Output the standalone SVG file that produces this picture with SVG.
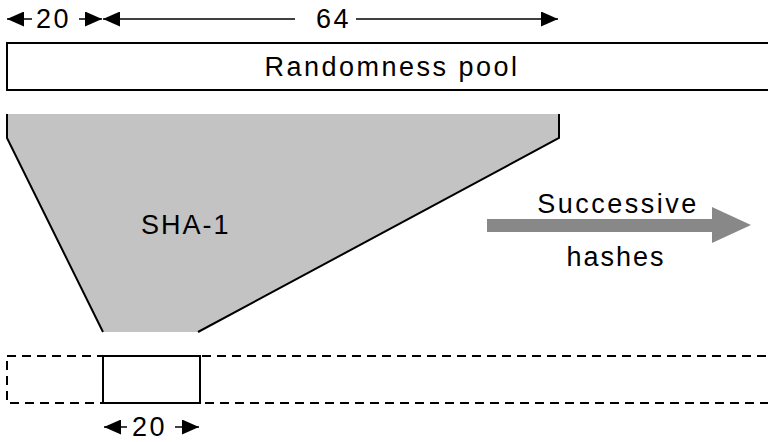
<svg xmlns="http://www.w3.org/2000/svg" width="768" height="442" viewBox="0 0 768 442">
<style>
text{font-family:"Liberation Sans",Arial,sans-serif;font-size:27px;letter-spacing:2.5px;fill:#000}
.dim{stroke:#000;stroke-width:1.5;fill:none;marker-end:url(#ah)}
.box{fill:#fff;stroke:#000;stroke-width:2}
.edge{fill:none;stroke:#000;stroke-width:2}
</style>
<defs>
<marker id="ah" markerUnits="userSpaceOnUse" markerWidth="17" markerHeight="15" refX="17" refY="7.5" orient="auto">
<path d="M0,0 L17,7.5 L0,15 Z" fill="#000"/>
</marker>
</defs>
<rect width="768" height="442" fill="#fff"/>
<g id="dimensions">
<line class="dim" x1="32" y1="19" x2="7" y2="19"/>
<line class="dim" x1="79" y1="19" x2="102" y2="19"/>
<text x="36" y="28">20</text>
<line class="dim" x1="295" y1="19" x2="103" y2="19"/>
<line class="dim" x1="356" y1="19" x2="558" y2="19"/>
<text x="316" y="28">64</text>
<line class="dim" x1="127" y1="427" x2="104" y2="427"/>
<line class="dim" x1="175" y1="427" x2="199" y2="427"/>
<text x="132" y="436">20</text>
</g>
<g id="pool">
<rect class="box" x="7" y="43" width="800" height="47"/>
<text x="392" y="76" text-anchor="middle">Randomness pool</text>
</g>
<g id="sha1">
<path d="M7,114 L559,114 L559,138 L198,332 L103,332 L7,138 Z" fill="#c3c3c3"/>
<path class="edge" d="M7,114 L7,138 L103,332"/>
<path class="edge" d="M559,114 L559,138 L198,332"/>
<text x="141" y="234" style="letter-spacing:2px">SHA-1</text>
</g>
<g id="output">
<rect x="7" y="356" width="800" height="47" fill="none" stroke="#000" stroke-width="2" stroke-dasharray="9 6"/>
<rect class="box" x="103" y="356" width="97" height="47"/>
</g>
<g id="successive">
<polygon points="487,219 712,219 712,207 751,225 712,243 712,232 487,232" fill="#888"/>
<text x="618" y="213" text-anchor="middle">Successive</text>
<text x="616" y="266" text-anchor="middle" style="letter-spacing:2px">hashes</text>
</g>
</svg>
